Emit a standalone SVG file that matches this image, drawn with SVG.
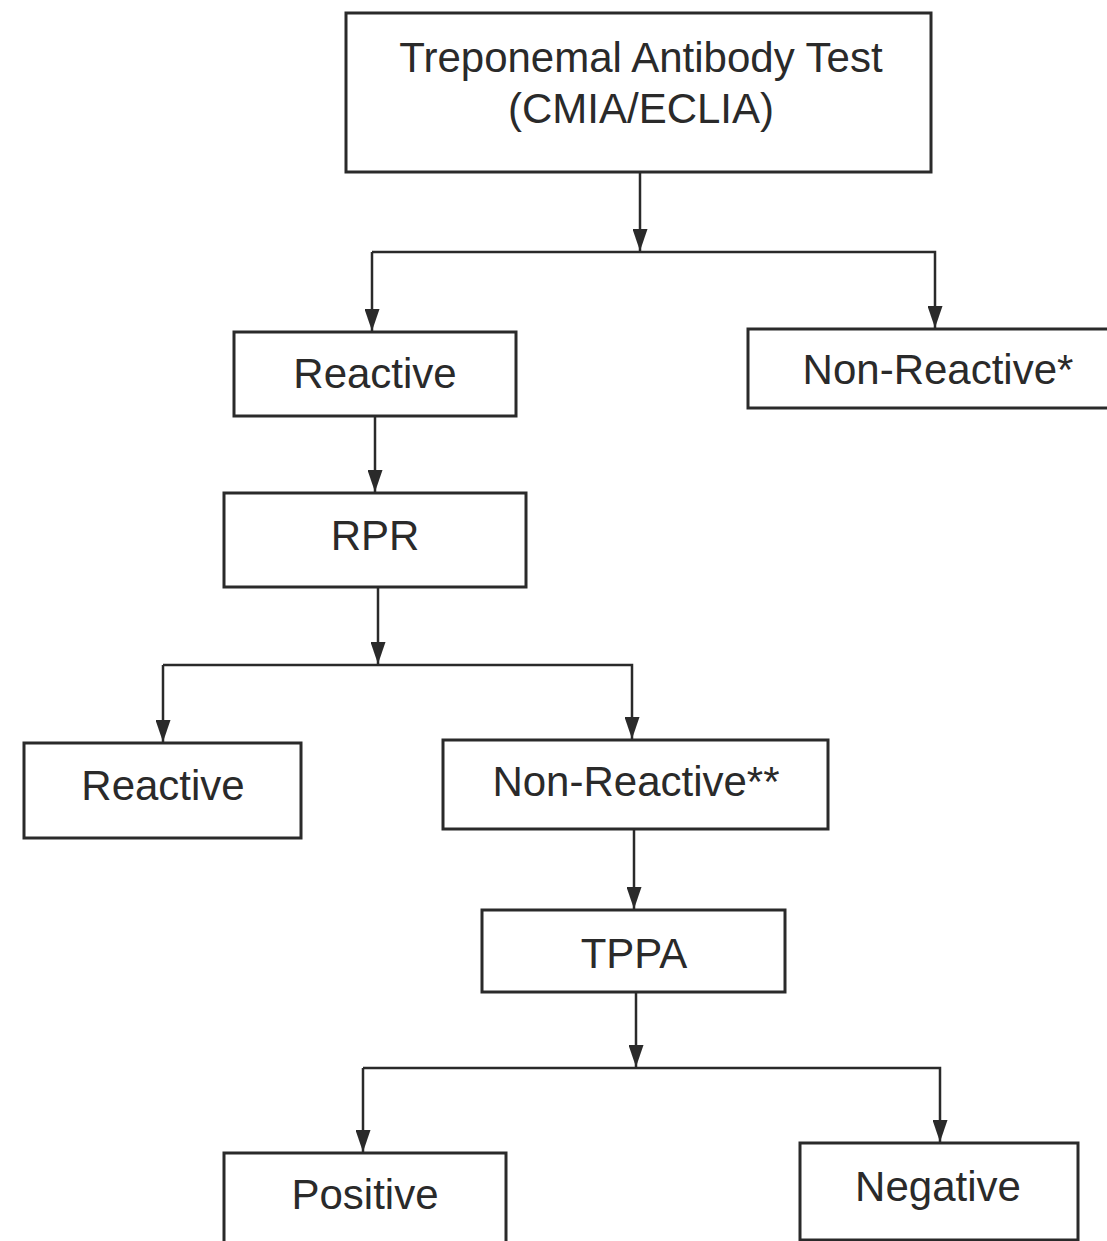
<svg xmlns="http://www.w3.org/2000/svg" width="1107" height="1241" viewBox="0 0 1107 1241">
<style>
.box{fill:#fff;stroke:#2a2a2a;stroke-width:3}
.lbl{font-family:"Liberation Sans",Arial,sans-serif;font-size:42px;fill:#2a2a2a;text-anchor:middle}
.ln{fill:none;stroke:#2a2a2a;stroke-width:2.5}
</style>
<defs>
<marker id="ah" markerWidth="22" markerHeight="15" refX="22" refY="7.5" orient="auto" markerUnits="userSpaceOnUse" viewBox="0 0 22 15">
<path d="M0,0 L22,7.5 L0,15 Z" fill="#2a2a2a"/>
</marker>
</defs>
<rect width="1107" height="1241" fill="#fff"/>
<g id="connectors">
<line class="ln" x1="640" y1="172" x2="640" y2="251" marker-end="url(#ah)"/>
<polyline class="ln" points="372,252 935,252 935,328" marker-end="url(#ah)"/>
<line class="ln" x1="372" y1="252" x2="372" y2="331" marker-end="url(#ah)"/>
<line class="ln" x1="375" y1="416" x2="375" y2="492" marker-end="url(#ah)"/>
<line class="ln" x1="378" y1="587" x2="378" y2="664" marker-end="url(#ah)"/>
<polyline class="ln" points="163,665 632,665 632,739" marker-end="url(#ah)"/>
<line class="ln" x1="163" y1="665" x2="163" y2="742" marker-end="url(#ah)"/>
<line class="ln" x1="634" y1="829" x2="634" y2="909" marker-end="url(#ah)"/>
<line class="ln" x1="636" y1="992" x2="636" y2="1067" marker-end="url(#ah)"/>
<polyline class="ln" points="363,1068 940,1068 940,1142" marker-end="url(#ah)"/>
<line class="ln" x1="363" y1="1068" x2="363" y2="1152" marker-end="url(#ah)"/>
</g>
<g id="n-treponemal">
<rect class="box" x="346" y="13" width="585" height="159"/>
<text class="lbl" x="641" y="72" font-size="44">Treponemal Antibody Test</text>
<text class="lbl" x="641" y="123" font-size="44">(CMIA/ECLIA)</text>
</g>
<g id="n-reactive1">
<rect class="box" x="234" y="332" width="282" height="84"/>
<text class="lbl" x="375" y="388">Reactive</text>
</g>
<g id="n-nonreactive1">
<rect class="box" x="748" y="329" width="365" height="79"/>
<text class="lbl" x="938" y="384">Non-Reactive*</text>
</g>
<g id="n-rpr">
<rect class="box" x="224" y="493" width="302" height="94"/>
<text class="lbl" x="375" y="550">RPR</text>
</g>
<g id="n-reactive2">
<rect class="box" x="24" y="743" width="277" height="95"/>
<text class="lbl" x="163" y="800">Reactive</text>
</g>
<g id="n-nonreactive2">
<rect class="box" x="443" y="740" width="385" height="89"/>
<text class="lbl" x="636" y="796">Non-Reactive**</text>
</g>
<g id="n-tppa">
<rect class="box" x="482" y="910" width="303" height="82"/>
<text class="lbl" x="634" y="968">TPPA</text>
</g>
<g id="n-positive">
<rect class="box" x="224" y="1153" width="282" height="100"/>
<text class="lbl" x="365" y="1209">Positive</text>
</g>
<g id="n-negative">
<rect class="box" x="800" y="1143" width="278" height="97"/>
<text class="lbl" x="938" y="1201">Negative</text>
</g>
</svg>
